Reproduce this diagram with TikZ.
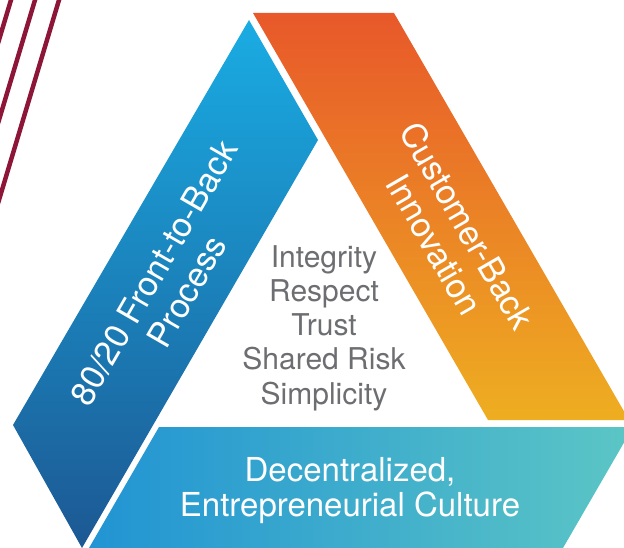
\documentclass[tikz,border=0pt]{standalone}
\usepackage{fontspec}
\setmainfont{TeX Gyre Heros}
\begin{document}
\begin{tikzpicture}[x=1bp,y=-1bp]
  \definecolor{stripered}{HTML}{8C1538}
  \definecolor{blueTop}{HTML}{1AACE3}
  \definecolor{blueMid}{HTML}{157CC2}
  \definecolor{blueBot}{HTML}{1C5893}
  \definecolor{orTop}{HTML}{E8582A}
  \definecolor{orMid}{HTML}{EC8626}
  \definecolor{orBot}{HTML}{EEAE21}
  \definecolor{tealL}{HTML}{2194D3}
  \definecolor{tealM}{HTML}{1AB0E2}
  \definecolor{tealR}{HTML}{5CC6C5}
  \definecolor{valuegray}{HTML}{6D6E71}
  \tikzset{
    stripe/.style={draw=stripered, line width=4.5bp},
    bandtext/.style={text=white, align=center, inner sep=0pt,
      font=\fontsize{34bp}{38bp}\selectfont},
    valuetext/.style={text=valuegray, align=center, inner sep=0pt,
      font=\fontsize{30bp}{34.3bp}\selectfont},
    basetext/.style={text=white, align=center, inner sep=0pt,
      font=\fontsize{33bp}{35bp}\selectfont}
  }
  \useasboundingbox (0,0) rectangle (624,548);
  \begin{scope}
    \clip (0,0) rectangle (624,548);
    % three slanted stripes in the top-left corner
    \foreach \xt in {11,35,59}
      \draw[stripe] (\xt+3,-10) -- (\xt-66,220);
    % left band
    \shade[top color=blueTop, middle color=blueMid, bottom color=blueBot]
      (249,20) -- (318,140) -- (82,548) -- (13,425) -- cycle;
    % right band
    \shade[top color=orTop, middle color=orMid, bottom color=orBot]
      (253,13) -- (394,13) -- (629,420) -- (488,420) -- cycle;
    % bottom band
    \shade[left color=tealL, middle color=tealM, right color=tealR]
      (159,427) -- (633,427) -- (563,548) -- (89,548) -- cycle;
  \end{scope}
  % labels
  \node[bandtext, rotate=60] (process) at (170,282)
    {80/20 Front-to-Back\\Process};
  \node[bandtext, rotate=-60] (innovation) at (451,235)
    {Customer-Back\\Innovation};
  \node[basetext] (culture) at (350,491)
    {Decentralized,\\Entrepreneurial Culture};
  \node[valuetext] (values) at (324,328)
    {Integrity\\Respect\\Trust\\Shared Risk\\Simplicity};
\end{tikzpicture}
\end{document}
